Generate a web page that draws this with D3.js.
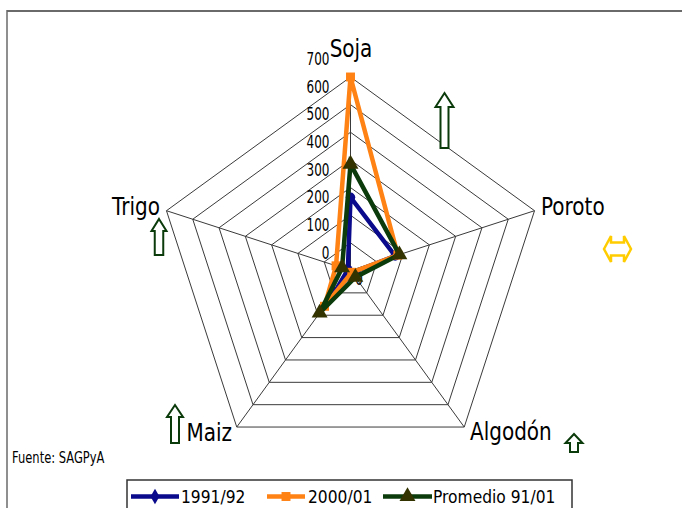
<!DOCTYPE html>
<html>
<head>
<meta charset="utf-8">
<script src="https://cdn.jsdelivr.net/npm/d3@7/dist/d3.min.js"></script>
<style>
  html, body { margin: 0; padding: 0; background: #fff; }
  svg { display: block; }
  text { font-family: "DejaVu Sans", sans-serif; fill: #000; }
</style>
</head>
<body>
<svg id="chart" width="682" height="508"></svg>
<script>
// Crop axes of the radar
const categories = ["Soja", "Poroto", "Algodón", "Maiz", "Trigo"];
// Series values per crop (same order as categories)
const serie1991 = [265, 170, 10, 95, 10];
const serie2000 = [700, 180, 8, 160, 55];
const seriePromedio = [385, 186, 30, 190, 32];
const seriesNames = ["1991/92", "2000/01", "Promedio 91/01"];
// Radial ticks
const tickValues = [0, 100, 200, 300, 400, 500, 600, 700];

const svg = d3.select("#chart");
const cx = 350.5, cy = 270.5, R = 193.5;

const r = d3.scaleLinear().domain([0, 700]).range([0, R]);
const angle = d3.scaleLinear().domain([0, categories.length]).range([0, 2 * Math.PI]);
const pt = (i, v) => {
  const a = angle(i);
  return [cx + r(v) * Math.sin(a), cy - r(v) * Math.cos(a)];
};

// Frame
svg.append("line").attr("x1", 7).attr("x2", 682).attr("y1", 11).attr("y2", 11)
  .attr("stroke", "#6a6a6a").attr("stroke-width", 2);
svg.append("line").attr("x1", 7).attr("x2", 7).attr("y1", 10).attr("y2", 508)
  .attr("stroke", "#6a6a6a").attr("stroke-width", 1.5);

// Grid rings
const grid = svg.append("g").attr("fill", "none").attr("stroke", "#3a3a3a").attr("stroke-width", 1);
tickValues.filter(t => t > 0).forEach(t => {
  grid.append("polygon")
    .attr("points", categories.map((c, i) => pt(i, t).join(",")).join(" "));
});
categories.forEach((c, i) => {
  const [x, y] = pt(i, 700);
  grid.append("line").attr("x1", cx).attr("y1", cy).attr("x2", x).attr("y2", y);
});

// Tick labels along the first axis
const ticks = svg.append("g");
tickValues.forEach(t => {
  const [x, y] = pt(0, t);
  ticks.append("text")
    .attr("transform", `translate(${x - 21},${y - 12}) scale(1,1.45)`)
    .attr("text-anchor", "end")
    .attr("font-size", 12)
    .text(d3.format("d")(t));
});
ticks.append("text")
  .attr("transform", `translate(363,285) scale(1,1.45)`)
  .attr("text-anchor", "end")
  .attr("font-size", 12)
  .text(d3.format("d")(tickValues[0]));

// Category labels
const catPos = [
  { x: 351, y: 56.5, anchor: "middle" },
  { x: 541, y: 215, anchor: "start" },
  { x: 470, y: 440, anchor: "start" },
  { x: 232, y: 440.5, anchor: "end" },
  { x: 160, y: 215, anchor: "end" }
];
categories.forEach((c, i) => {
  svg.append("text")
    .attr("transform", `translate(${catPos[i].x},${catPos[i].y}) scale(1,1.25)`)
    .attr("text-anchor", catPos[i].anchor)
    .attr("font-size", 20)
    .text(c);
});

// Series
const seriesData = [serie1991, serie2000, seriePromedio];
const colors = ["#0a0a8c", "#ff8214", "#0b3a0b"];
const markerFill = ["#0a0a8c", "#ff8214", "#333300"];
const line = d3.line().curve(d3.curveLinearClosed);
const symbols = [d3.symbolCircle, d3.symbolSquare, d3.symbolTriangle];
const symSize = [70, 80, 110];

seriesData.forEach((vals, s) => {
  const pts = vals.map((v, i) => pt(i, v));
  svg.append("path")
    .attr("d", line(pts))
    .attr("fill", "none")
    .attr("stroke", colors[s])
    .attr("stroke-width", 4.5)
    .attr("stroke-linejoin", "miter");
  pts.forEach(p => {
    svg.append("path")
      .attr("d", d3.symbol().type(symbols[s]).size(symSize[s])())
      .attr("transform", `translate(${p[0]},${p[1]})`)
      .attr("fill", markerFill[s]);
  });
});

// Block arrows
function upArrow(xc, top, bottom, headW, shaftW, headH) {
  const p = d3.path();
  p.moveTo(xc, top);
  p.lineTo(xc + headW / 2, top + headH);
  p.lineTo(xc + shaftW / 2, top + headH);
  p.lineTo(xc + shaftW / 2, bottom);
  p.lineTo(xc - shaftW / 2, bottom);
  p.lineTo(xc - shaftW / 2, top + headH);
  p.lineTo(xc - headW / 2, top + headH);
  p.closePath();
  return p.toString();
}
const arrows = [
  [444.5, 93, 148, 18, 8, 14],
  [159, 219, 255, 15, 8.5, 12],
  [175, 405, 443, 16, 8, 12],
  [574, 434, 452, 17, 8, 9]
];
arrows.forEach(a => {
  svg.append("path").attr("d", upArrow(...a))
    .attr("fill", "#fff").attr("stroke", "#0b3a0b").attr("stroke-width", 2)
    .attr("stroke-linejoin", "miter");
});
// Left-right arrow
(function () {
  const xl = 604, xr = 631, yc = 249, hh = 13, sh = 6.5, hl = 7;
  const p = d3.path();
  p.moveTo(xl, yc);
  p.lineTo(xl + hl, yc - hh);
  p.lineTo(xl + hl, yc - sh);
  p.lineTo(xr - hl, yc - sh);
  p.lineTo(xr - hl, yc - hh);
  p.lineTo(xr, yc);
  p.lineTo(xr - hl, yc + hh);
  p.lineTo(xr - hl, yc + sh);
  p.lineTo(xl + hl, yc + sh);
  p.lineTo(xl + hl, yc + hh);
  p.closePath();
  svg.append("path").attr("d", p.toString())
    .attr("fill", "#fff").attr("stroke", "#ffcc00").attr("stroke-width", 2.5);
})();

// Source note
svg.append("text")
  .attr("transform", "translate(12,463) scale(1,1.4)")
  .attr("font-size", 11.5)
  .text("Fuente: SAGPyA");

// Legend
const lg = svg.append("g");
lg.append("rect").attr("x", 127).attr("y", 480).attr("width", 445).attr("height", 40)
  .attr("fill", "#fff").attr("stroke", "#333").attr("stroke-width", 1.5);
const legendItems = [
  { x1: 131, x2: 179, tx: 181 },
  { x1: 267, x2: 305, tx: 308 },
  { x1: 383, x2: 432, tx: 433 }
];
const legendSym = [d3.symbolDiamond, d3.symbolSquare, d3.symbolTriangle];
legendItems.forEach((it, s) => {
  const ly = 496.5;
  lg.append("line").attr("x1", it.x1).attr("x2", it.x2).attr("y1", ly).attr("y2", ly)
    .attr("stroke", colors[s]).attr("stroke-width", 4.5);
  lg.append("path")
    .attr("d", d3.symbol().type(legendSym[s]).size(symSize[s])())
    .attr("transform", `translate(${(it.x1 + it.x2) / 2},${ly})`)
    .attr("fill", markerFill[s]);
  lg.append("text")
    .attr("transform", `translate(${it.tx},503) scale(1,1.15)`)
    .attr("font-size", 15.5)
    .text(seriesNames[s]);
});
</script>
</body>
</html>
